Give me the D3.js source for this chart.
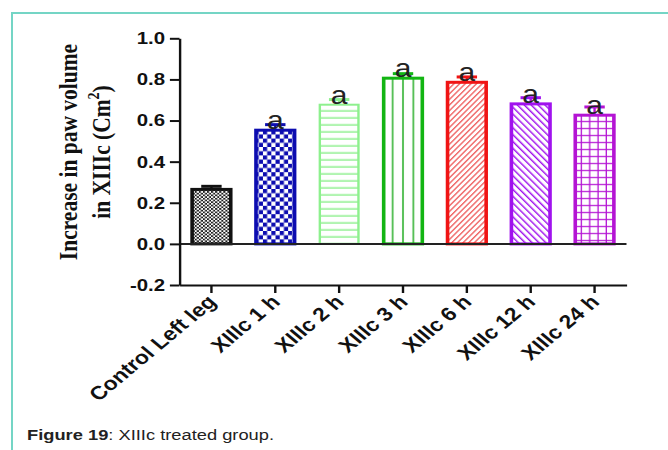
<!DOCTYPE html>
<html>
<head>
<meta charset="utf-8">
<script src="https://cdn.jsdelivr.net/npm/d3@7"></script>
<style>
  body { margin: 0; background: #fff; }
  svg { display: block; }
</style>
</head>
<body>
<svg></svg>
<script>
const width = 668;
const height = 450;

// data
const categories = ["Control Left leg", "XIIIc 1 h", "XIIIc 2 h", "XIIIc 3 h", "XIIIc 6 h", "XIIIc 12 h", "XIIIc 24 h"];
const values = [0.265, 0.553, 0.677, 0.806, 0.786, 0.681, 0.626];
const errors = [0.015, 0.027, 0.025, 0.022, 0.026, 0.03, 0.04];
const marks = ["", "a", "a", "a", "a", "a", "a"];
const yTicks = [-0.2, 0.0, 0.2, 0.4, 0.6, 0.8, 1.0];
const colors = ["#111111", "#0c0cb0", "#8ef08e", "#13b513", "#f01414", "#a012ee", "#b414d4"];

// the source image is stretched sideways, so the chart is drawn in a squeezed space
const sx = 1.2;

const svg = d3.select("svg")
    .attr("width", width)
    .attr("height", height);

// page frame
svg.append("line").attr("x1", 12).attr("x2", width).attr("y1", 13).attr("y2", 13)
    .attr("stroke", "#74d5c5").attr("stroke-width", 2);
svg.append("line").attr("x1", 12).attr("x2", 12).attr("y1", 12).attr("y2", height)
    .attr("stroke", "#74d5c5").attr("stroke-width", 2);

const g = svg.append("g").attr("transform", `scale(${sx},1)`);

const x = d3.scaleBand()
    .domain(categories)
    .range([179.5 / sx, 626.5 / sx])
    .paddingInner(0.35)
    .paddingOuter(0.175);

const y = d3.scaleLinear()
    .domain([-0.2, 1.0])
    .range([285, 38.3]);

const defs = svg.append("defs");
const bw = x.bandwidth();

// fill patterns, one per bar, anchored to the bar
function makePattern(i) {
    const id = "pat" + i;
    const px = x(categories[i]);
    const py = y(values[i]);
    const c = colors[i];
    let p;
    if (i === 0) {
        p = defs.append("pattern").attr("id", id).attr("patternUnits", "userSpaceOnUse")
            .attr("x", px).attr("y", py).attr("width", 3.4).attr("height", 3.4);
        p.append("rect").attr("width", 3.4).attr("height", 3.4).attr("fill", "#1c1c1c");
        p.append("rect").attr("width", 1.7).attr("height", 1.7).attr("fill", "#fff");
        p.append("rect").attr("x", 1.7).attr("y", 1.7).attr("width", 1.7).attr("height", 1.7).attr("fill", "#fff");
    } else if (i === 1) {
        p = defs.append("pattern").attr("id", id).attr("patternUnits", "userSpaceOnUse")
            .attr("x", px).attr("y", py).attr("width", 7).attr("height", 8.4);
        p.append("rect").attr("width", 7).attr("height", 8.4).attr("fill", "#fff");
        p.append("rect").attr("width", 3.5).attr("height", 4.2).attr("fill", c);
        p.append("rect").attr("x", 3.5).attr("y", 4.2).attr("width", 3.5).attr("height", 4.2).attr("fill", c);
    } else if (i === 2) {
        p = defs.append("pattern").attr("id", id).attr("patternUnits", "userSpaceOnUse")
            .attr("x", px).attr("y", py).attr("width", 10).attr("height", 7);
        p.append("rect").attr("width", 10).attr("height", 7).attr("fill", "#fff");
        p.append("rect").attr("y", 5.5).attr("width", 10).attr("height", 1.5).attr("fill", c);
    } else if (i === 3) {
        const w = bw / 4;
        p = defs.append("pattern").attr("id", id).attr("patternUnits", "userSpaceOnUse")
            .attr("x", px).attr("y", py).attr("width", w).attr("height", 10);
        p.append("rect").attr("width", w).attr("height", 10).attr("fill", "#fff");
        p.append("rect").attr("x", -0.8).attr("width", 1.6).attr("height", 10).attr("fill", "#58c058");
        p.append("rect").attr("x", w - 0.8).attr("width", 1.6).attr("height", 10).attr("fill", "#58c058");
    } else if (i === 4 || i === 5) {
        p = defs.append("pattern").attr("id", id).attr("patternUnits", "userSpaceOnUse")
            .attr("x", px).attr("y", py)
            .attr("width", i === 4 ? 3.6 : 4.4).attr("height", 10)
            .attr("patternTransform", `rotate(${i === 4 ? 40 : -40})`);
        p.append("rect").attr("width", 10).attr("height", 10).attr("fill", "#fff");
        p.append("rect").attr("width", 1.3).attr("height", 10)
            .attr("fill", i === 4 ? "#f06a6a" : c);
    } else {
        p = defs.append("pattern").attr("id", id).attr("patternUnits", "userSpaceOnUse")
            .attr("x", px).attr("y", py).attr("width", bw / 5).attr("height", 7);
        p.append("rect").attr("width", bw / 5).attr("height", 7).attr("fill", "#fff");
        p.append("rect").attr("y", 5.8).attr("width", bw / 5).attr("height", 1.3).attr("fill", c);
        p.append("rect").attr("x", bw / 5 - 1.1).attr("width", 1.1).attr("height", 7).attr("fill", c);
    }
    return `url(#${id})`;
}

const rows = categories.map((c, i) => ({ cat: c, value: values[i], err: errors[i], mark: marks[i], i: i }));

// bars
g.selectAll(".bar")
    .data(rows)
    .enter().append("rect")
    .attr("class", "bar")
    .attr("x", d => x(d.cat) + 1.2)
    .attr("y", d => y(d.value))
    .attr("width", bw - 2.4)
    .attr("height", d => y(0) - y(d.value))
    .attr("fill", d => makePattern(d.i))
    .attr("stroke", d => colors[d.i])
    .attr("stroke-width", d => d.i === 2 ? 2 : 3);

// error bars
const eb = g.selectAll(".err")
    .data(rows)
    .enter().append("g")
    .attr("class", "err");
eb.append("line")
    .attr("x1", d => x(d.cat) + bw / 2)
    .attr("x2", d => x(d.cat) + bw / 2)
    .attr("y1", d => y(d.value))
    .attr("y2", d => y(d.value + d.err))
    .attr("stroke", d => colors[d.i])
    .attr("stroke-width", 2);
eb.append("line")
    .attr("x1", d => x(d.cat) + bw / 2 - 8.5)
    .attr("x2", d => x(d.cat) + bw / 2 + 8.5)
    .attr("y1", d => y(d.value + d.err))
    .attr("y2", d => y(d.value + d.err))
    .attr("stroke", d => colors[d.i])
    .attr("stroke-width", 3);

// zero line
g.append("line")
    .attr("x1", x.range()[0]).attr("x2", x.range()[1])
    .attr("y1", y(0)).attr("y2", y(0))
    .attr("stroke", "#222").attr("stroke-width", 2);

// significance letters
g.selectAll(".mark")
    .data(rows.filter(d => d.mark))
    .enter().append("text")
    .attr("class", "mark")
    .attr("x", d => x(d.cat) + bw / 2)
    .attr("y", d => y(d.value) - 1)
    .attr("text-anchor", "middle")
    .style("font-family", "Liberation Sans, Arial, sans-serif")
    .style("font-size", "25px")
    .attr("fill", "#222")
    .text(d => d.mark);

// y axis
const yAxis = g.append("g")
    .attr("transform", `translate(${x.range()[0]},0)`)
    .call(d3.axisLeft(y).tickValues(yTicks).tickFormat(d => d.toFixed(1)).tickSize(8).tickSizeOuter(0).tickPadding(4));
yAxis.select(".domain").attr("stroke", "#111").attr("stroke-width", 2);
yAxis.selectAll(".tick line").attr("stroke", "#111").attr("stroke-width", 2);
yAxis.selectAll("text")
    .style("font-family", "Liberation Sans, Arial, sans-serif")
    .style("font-size", "17px")
    .style("font-weight", "bold")
    .attr("fill", "#111");

// x axis at the bottom of the value range
const xAxis = g.append("g")
    .attr("transform", `translate(0,${y(-0.2)})`)
    .call(d3.axisBottom(x).tickSize(8).tickSizeOuter(0));
xAxis.select(".domain").attr("stroke", "#111").attr("stroke-width", 2);
xAxis.selectAll(".tick line").attr("stroke", "#111").attr("stroke-width", 2);
xAxis.selectAll("text")
    .attr("x", 0).attr("y", 0).attr("dy", 0)
    .attr("transform", "translate(5,18) rotate(-45)")
    .style("text-anchor", "end")
    .style("font-family", "Liberation Sans, Arial, sans-serif")
    .style("font-size", "19px")
    .style("font-weight", "bold")
    .attr("fill", "#111");

// y axis title, two lines
const title = g.append("g")
    .attr("transform", `translate(0,152) rotate(-90)`)
    .style("font-family", "Liberation Serif, Times New Roman, serif")
    .style("font-weight", "bold")
    .style("font-size", "21.5px")
    .attr("fill", "#111");
title.append("text")
    .attr("x", 0).attr("y", 77.5 / sx)
    .attr("text-anchor", "middle")
    .text("Increase in paw volume");
const t2 = title.append("text")
    .attr("x", 0).attr("y", 110 / sx)
    .attr("text-anchor", "middle");
t2.append("tspan").text("in XIIIc (Cm");
t2.append("tspan").attr("dy", -9).style("font-size", "14px").text("2");
t2.append("tspan").attr("dy", 9).text(")");

// caption, stretched like the rest of the page
const cap = svg.append("text")
    .attr("transform", "translate(27,440) scale(1.22,1)")
    .style("font-family", "Liberation Sans, Arial, sans-serif")
    .style("font-size", "15px")
    .attr("fill", "#222");
cap.append("tspan").style("font-weight", "bold").text("Figure 19");
cap.append("tspan").text(": XIIIc treated group.");
</script>
</body>
</html>
